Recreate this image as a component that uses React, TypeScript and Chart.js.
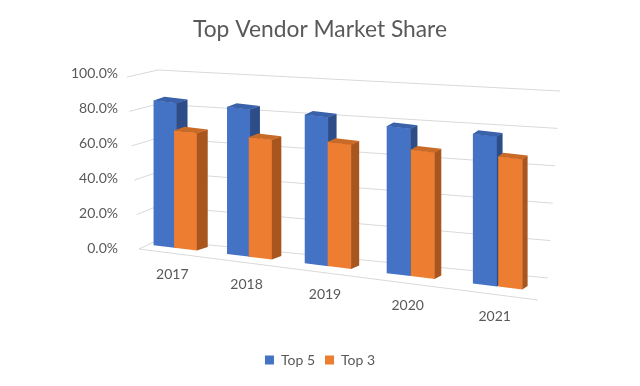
import { useEffect, useRef } from 'react';
import { Chart, registerables } from 'chart.js';

Chart.register(...registerables);

const categories = ['2017', '2018', '2019', '2020', '2021'];
const seriesNames = ['Top 5', 'Top 3'];
const top5Share = [82.9, 83.1, 82.8, 80.8, 81.1];
const top3Share = [66.9, 67.2, 68.9, 69.2, 70.3];
const yTickValues = [0, 20, 40, 60, 80, 100];

const FRONT = ['#4472C4', '#ED7D31'];
const SIDE = ['#2C4D87', '#A9561E'];
const TOPC = ['#3A62AB', '#C96A26'];
const TEXT = '#595959';
const GRID = '#D9D9D9';

export default function App() {
  const ref = useRef<HTMLCanvasElement>(null);

  useEffect(() => {
    document.body.style.margin = '0';
    const canvas = ref.current!;
    const K = 0.12; // floor slope
    const G = 0.000177; // perspective growth per px
    const C = 0.000326; // horizontal perspective bend

    const plugin = {
      id: 'excel3d',
      beforeDatasetsDraw(chart: any) {
        const { ctx, chartArea: ca, scales } = chart;
        const ys = scales.y;
        const xs = scales.x;
        const H = ca.bottom - ca.top;
        const fx = (x: number) => x + C * (x - (ca.left + 40)) * (x - (ca.right - 40));
        ctx.save();
        // walls / gridlines
        ctx.strokeStyle = GRID;
        ctx.lineWidth = 1;
        ys.ticks.forEach((tk: any) => {
          const t = (ca.bottom - ys.getPixelForValue(tk.value)) / H;
          ctx.beginPath();
          ctx.moveTo(ca.left + 4 - 12 * t, ca.bottom + 6 - 172 * t);
          ctx.lineTo(ca.left + 23, ca.bottom - 3 - 170 * t);
          ctx.lineTo(ca.right + 10 + 12 * t, ca.bottom + 35 - 187 * t);
          ctx.stroke();
        });
        ctx.beginPath();
        ctx.moveTo(ca.left + 4, ca.bottom + 6);
        ctx.lineTo(ca.right, ca.bottom + 57);
        ctx.stroke();

        // category labels
        ctx.fillStyle = TEXT;
        ctx.font = '14px Lato';
        ctx.textAlign = 'center';
        ctx.textBaseline = 'middle';
        xs.ticks.forEach((tk: any, i: number) => {
          const px = fx(xs.getPixelForTick(i)) - 3;
          ctx.fillText(xs.getLabelForValue(tk.value), px, ca.bottom + 27 + 0.13 * (px - ca.left));
        });

        // bars with depth
        const metas = chart.data.datasets.map((_: any, d: number) => chart.getDatasetMeta(d));
        const n = chart.data.labels.length;
        for (let i = 0; i < n; i++) {
          metas.forEach((meta: any, d: number) => {
            const el = meta.data[i];
            if (!el) return;
            const cx = el.x;
            const w = el.width;
            const top = el.y;
            const base = el.base;
            const s = 1 + G * (cx - ca.left - 29);
            const sh = fx(cx) - cx;
            const M = (px: number, py: number) => {
              const X = s * px + cx * (1 - s) + sh;
              return [X, K * (X - ca.left) + base + s * (py - base)];
            };
            const e = cx * (1 - s) + sh;
            ctx.save();
            ctx.transform(s, K * s, 0, s, e, K * e - K * ca.left + base * (1 - s));
            el.draw(ctx);
            ctx.restore();

            const DX = Math.max(4, 11 - (6 * (cx - ca.left - 29)) / 346);
            const DY = -3.5;
            const ftl = M(cx - w / 2, top);
            const ftr = M(cx + w / 2, top);
            const fbr = M(cx + w / 2, base);
            // side face
            ctx.fillStyle = SIDE[d];
            ctx.beginPath();
            ctx.moveTo(ftr[0] - 0.3, ftr[1]);
            ctx.lineTo(ftr[0] + DX, ftr[1] + DY);
            ctx.lineTo(fbr[0] + DX, fbr[1] + DY);
            ctx.lineTo(fbr[0] - 0.3, fbr[1]);
            ctx.closePath();
            ctx.fill();
            // top face
            ctx.fillStyle = TOPC[d];
            ctx.beginPath();
            ctx.moveTo(ftl[0], ftl[1] + 0.3);
            ctx.lineTo(ftr[0], ftr[1] + 0.3);
            ctx.lineTo(ftr[0] + DX, ftr[1] + DY);
            ctx.lineTo(ftl[0] + DX, ftl[1] + DY);
            ctx.closePath();
            ctx.fill();
          });
        }
        ctx.restore();
        return false;
      },
    };

    const chart = new Chart(canvas, {
      type: 'bar',
      data: {
        labels: categories,
        datasets: [
          {
            label: seriesNames[0],
            data: top5Share,
            backgroundColor: FRONT[0],
            borderWidth: 0,
            categoryPercentage: 0.57,
            barPercentage: 1,
          },
          {
            label: seriesNames[1],
            data: top3Share,
            backgroundColor: FRONT[1],
            borderWidth: 0,
            categoryPercentage: 0.57,
            barPercentage: 1,
          },
        ],
      },
      options: {
        responsive: false,
        animation: false,
        events: [],
        layout: { padding: { left: 0, right: 0, top: 0, bottom: 9 } },
        font: { family: 'Lato' },
        plugins: {
          title: {
            display: true,
            text: 'Top Vendor Market Share',
            color: TEXT,
            font: { size: 22.8, weight: 'normal', family: 'Lato' },
            padding: { top: 16, bottom: 24.8 },
          },
          legend: {
            position: 'bottom',
            labels: {
              boxWidth: 9,
              boxHeight: 9,
              color: TEXT,
              font: { size: 14, family: 'Lato' },
              padding: 10,
            },
          },
          tooltip: { enabled: false },
        },
        scales: {
          x: {
            grid: { display: false, drawTicks: false },
            border: { display: false },
            ticks: { display: false },
            afterFit: (s: any) => {
              s.height = 100;
            },
          },
          y: {
            min: yTickValues[0],
            max: yTickValues[yTickValues.length - 1],
            grid: { display: false, drawTicks: false },
            border: { display: false },
            ticks: {
              stepSize: yTickValues[1] - yTickValues[0],
              padding: 17,
              labelOffset: 5,
              color: TEXT,
              font: { size: 14, family: 'Lato' },
              callback: (v: any) => Number(v).toFixed(1) + '%',
            },
            afterFit: (s: any) => {
              s.width = 135;
            },
          },
          yRight: {
            position: 'right',
            min: yTickValues[0],
            max: yTickValues[yTickValues.length - 1],
            grid: { display: false, drawTicks: false },
            border: { display: false },
            ticks: { display: false },
            afterFit: (s: any) => {
              s.width = 102;
            },
          },
        },
      } as any,
      plugins: [plugin],
    });
    return () => chart.destroy();
  }, []);

  return (
    <div style={{ width: 640, height: 386, background: '#fff' }}>
      <canvas ref={ref} width={640} height={386} style={{ display: 'block' }} />
    </div>
  );
}
